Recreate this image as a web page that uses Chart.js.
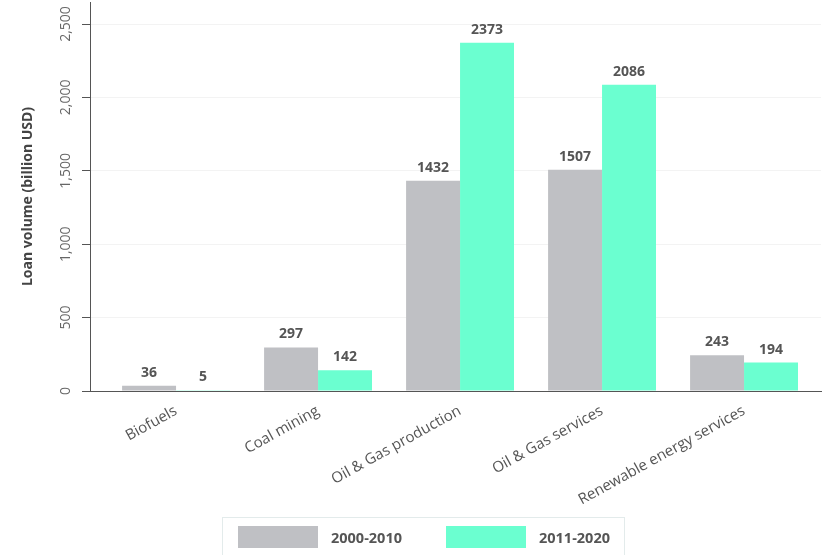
<!DOCTYPE html>
<html>
<head>
<meta charset="utf-8">
<title>Loan volume by sector</title>
<script src="https://cdn.jsdelivr.net/npm/chart.js@4.4.1/dist/chart.umd.min.js"></script>
<style>
  body { margin: 0; background: #fff; }
  #wrap { position: relative; width: 823px; height: 555px; }
  #legend {
    position: absolute; left: 222px; top: 517px; width: 403px; height: 42px;
    border: 1px solid #e3ebeb; box-sizing: border-box;
    font: bold 14.5px "Open Sans", sans-serif; color: #555;
  }
  #legend .item { position: absolute; top: 8px; display: flex; align-items: center; }
  #legend .swatch { width: 80px; height: 22px; margin-right: 13px; }
</style>
</head>
<body>
<div id="wrap">
  <canvas id="bar-chart" width="823" height="555"></canvas>
  <div id="legend"></div>
</div>
<script>
// sectors and loan volumes (billion USD) per period
const categories = ["Biofuels", "Coal mining", "Oil & Gas production", "Oil & Gas services", "Renewable energy services"];
const periods = ["2000-2010", "2011-2020"];
const loans2000 = [36, 297, 1432, 1507, 243];
const loans2011 = [5, 142, 2373, 2086, 194];
const yTicks = [0, 500, 1000, 1500, 2000, 2500];
const colors = ["#bfc0c4", "#6bffd0"];

const font = '"Open Sans", sans-serif';

// bar values written above each bar
const valueLabels = {
  id: "valueLabels",
  afterDatasetsDraw(chart) {
    const ctx = chart.ctx;
    ctx.save();
    ctx.font = "bold 14px " + font;
    ctx.fillStyle = "#555";
    ctx.textAlign = "center";
    ctx.textBaseline = "alphabetic";
    chart.data.datasets.forEach((ds, i) => {
      chart.getDatasetMeta(i).data.forEach((bar, j) => {
        ctx.fillText(ds.data[j].y, bar.x, bar.y - 9);
      });
    });
    ctx.restore();
  },
};

let config = {
  type: "bar",
  data: {
    datasets: [
      {
        label: periods[0],
        data: loans2000.map((v, i) => ({ x: i, y: v })),
        backgroundColor: colors[0],
      },
      {
        label: periods[1],
        data: loans2011.map((v, i) => ({ x: i, y: v })),
        backgroundColor: colors[1],
      },
    ],
  },
  options: {
    responsive: false,
    animation: false,
    categoryPercentage: 0.76,
    barPercentage: 1,
    layout: {
      padding: { left: 20, right: 2, top: 2, bottom: 40 },
    },
    plugins: {
      legend: { display: false },
      tooltip: { enabled: false },
    },
    scales: {
      x: {
        type: "linear",
        offset: false,
        min: -0.606,
        max: 4.542,
        afterBuildTicks: (scale) => {
          scale.ticks = categories.map((c, i) => ({ value: i }));
        },
        afterFit: (scale) => {
          scale.height = 124;
        },
        grid: { display: false, drawTicks: false },
        border: { color: "#555", width: 1 },
        ticks: {
          minRotation: 29,
          maxRotation: 29,
          padding: 11,
          color: "#555",
          font: { family: font, size: 15 },
          callback: (value) => categories[value],
        },
      },
      y: {
        min: 0,
        max: 2650,
        afterBuildTicks: (scale) => {
          scale.ticks = yTicks.map((v) => ({ value: v }));
        },
        afterFit: (scale) => {
          scale.width = 70;
          scale.paddingTop = 0;
        },
        grid: { color: "#f3f3f3", tickColor: "#555", tickLength: 8 },
        border: { color: "#555", width: 1 },
        ticks: {
          minRotation: 90,
          maxRotation: 90,
          crossAlign: "center",
          padding: -2,
          color: "#666",
          font: { family: font, size: 14 },
          callback: (value) => value.toLocaleString("en-US"),
        },
        title: {
          display: true,
          text: "Loan volume (billion USD)",
          color: "#444",
          padding: 0,
          font: { family: font, size: 14, weight: "bold" },
        },
      },
    },
  },
  plugins: [valueLabels],
};

// draw chart
var chart = new Chart(document.getElementById("bar-chart"), config);

// legend below the chart
const legend = document.getElementById("legend");
chart.data.datasets.forEach((ds, i) => {
  const item = document.createElement("div");
  item.className = "item";
  item.style.left = (15 + i * 208) + "px";
  item.innerHTML = '<span class="swatch" style="background:' + ds.backgroundColor + '"></span>' + ds.label;
  legend.appendChild(item);
});
</script>
</body>
</html>
